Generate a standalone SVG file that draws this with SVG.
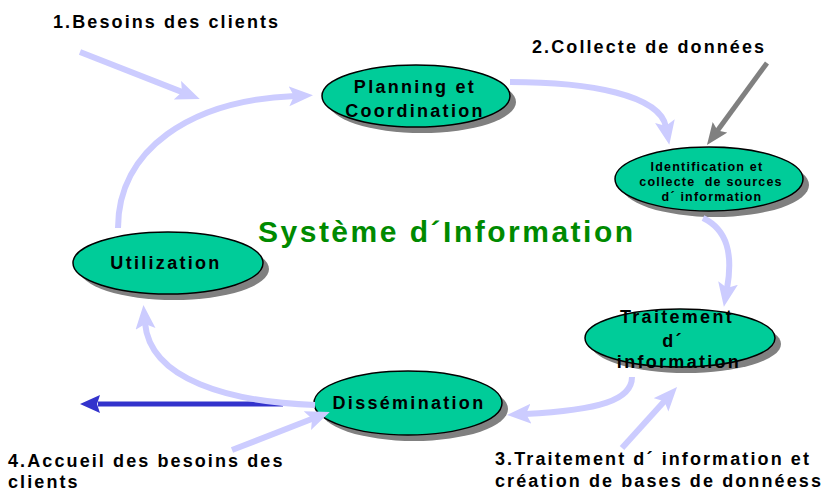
<svg xmlns="http://www.w3.org/2000/svg" width="829" height="491" viewBox="0 0 829 491">
<style>
.sh{fill:#808080}
.nd{fill:#00CC99;stroke:#000;stroke-width:1.5}
.nt{font-family:"Liberation Sans",Arial,sans-serif;font-weight:bold;font-size:18px;letter-spacing:2.3px;fill:#000;text-anchor:middle}
.ns{font-size:12.5px;letter-spacing:1.2px}
.lb{font-family:"Liberation Sans",Arial,sans-serif;font-weight:bold;font-size:18px;letter-spacing:2.1px;fill:#000;white-space:pre}
.ttl{font-family:"Liberation Sans",Arial,sans-serif;font-weight:bold;font-size:30px;letter-spacing:2.5px;fill:#008A00}
.lv{fill:none;stroke:#CCCCFF;stroke-width:6}
.gr{fill:none;stroke:#808080;stroke-width:5}
.bl{fill:none;stroke:#3333CC;stroke-width:5}
</style>
<defs>
<marker id="ml" markerUnits="userSpaceOnUse" markerWidth="26" markerHeight="22" refX="6" refY="10" orient="auto">
<path d="M0,0 L24,10 L0,20 L5,10 z" fill="#CCCCFF"/>
</marker>
<marker id="mg" markerUnits="userSpaceOnUse" markerWidth="24" markerHeight="20" refX="5" refY="9" orient="auto">
<path d="M0,0 L22,9 L0,18 L4,9 z" fill="#808080"/>
</marker>
<marker id="mb" markerUnits="userSpaceOnUse" markerWidth="22" markerHeight="20" refX="2" refY="9" orient="auto">
<path d="M0,0 L20,9 L0,18 L3,9 z" fill="#3333CC"/>
</marker>
</defs>

<g id="node-planning">
<ellipse class="sh" cx="422" cy="102" rx="94" ry="31"/>
<ellipse class="nd" cx="416" cy="96" rx="94" ry="31"/>
<text class="nt" x="415" y="93">Planning et</text>
<text class="nt" x="415" y="117">Coordination</text>
</g>
<g id="node-identification">
<ellipse class="sh" cx="715" cy="185" rx="94" ry="32"/>
<ellipse class="nd" cx="709" cy="179" rx="94" ry="32"/>
<text class="nt ns" x="707" y="171">Identification et</text>
<text class="nt ns" x="711" y="186" style="white-space:pre">collecte  de sources</text>
<text class="nt ns" x="712" y="201">d´ information</text>
</g>
<g id="node-traitement">
<ellipse class="sh" cx="686" cy="344" rx="95" ry="29"/>
<ellipse class="nd" cx="680" cy="338" rx="95" ry="29"/>
<text class="nt" x="677" y="323">Traitement</text>
<text class="nt" x="673" y="347">d´</text>
<text class="nt" x="679" y="368">information</text>
</g>
<g id="node-utilization">
<ellipse class="sh" cx="174" cy="269" rx="95" ry="31"/>
<ellipse class="nd" cx="168" cy="263" rx="95" ry="31"/>
<text class="nt" x="166" y="269">Utilization</text>
</g>
<g id="node-dissemination">
<ellipse class="sh" cx="414" cy="409" rx="94" ry="32"/>
<ellipse class="nd" cx="408" cy="403" rx="94" ry="32"/>
<text class="nt" x="409" y="409">Dissémination</text>
</g>

<g id="title">
<text class="ttl" x="258" y="242">Système d´Information</text>
</g>

<g id="connectors">
<path class="lv" d="M80,52 L183,92.4" marker-end="url(#ml)"/>
<path class="lv" d="M118,228 C118,150 190,100 295,96" marker-end="url(#ml)"/>
<path class="lv" d="M510,82 C590,82 660,95 666,127" marker-end="url(#ml)"/>
<path class="gr" d="M767,63 L717,131.3" marker-end="url(#mg)"/>
<path class="lv" d="M703,218 C728,230 733,255 727,289" marker-end="url(#ml)"/>
<path class="lv" d="M632,377 C632,400 600,410 525,414" marker-end="url(#ml)"/>
<path class="lv" d="M622,448 L665,400.4" marker-end="url(#ml)"/>
<path class="lv" d="M232,450 L313,418.5" marker-end="url(#ml)"/>
<path class="bl" d="M283,404 L98,404" marker-end="url(#mb)"/>
<path class="lv" d="M315,405 C230,402 150,380 145,323" marker-end="url(#ml)"/>
</g>

<g id="labels">
<text class="lb" x="53" y="28">1.Besoins des clients</text>
<text class="lb" x="532" y="53">2.Collecte de données</text>
<text class="lb" x="495" y="465">3.Traitement d´ information et</text>
<text class="lb" x="495" y="487">création de bases de donnéess</text>
<text class="lb" x="8" y="467">4.Accueil des besoins des</text>
<text class="lb" x="8" y="488">clients</text>
</g>
</svg>
